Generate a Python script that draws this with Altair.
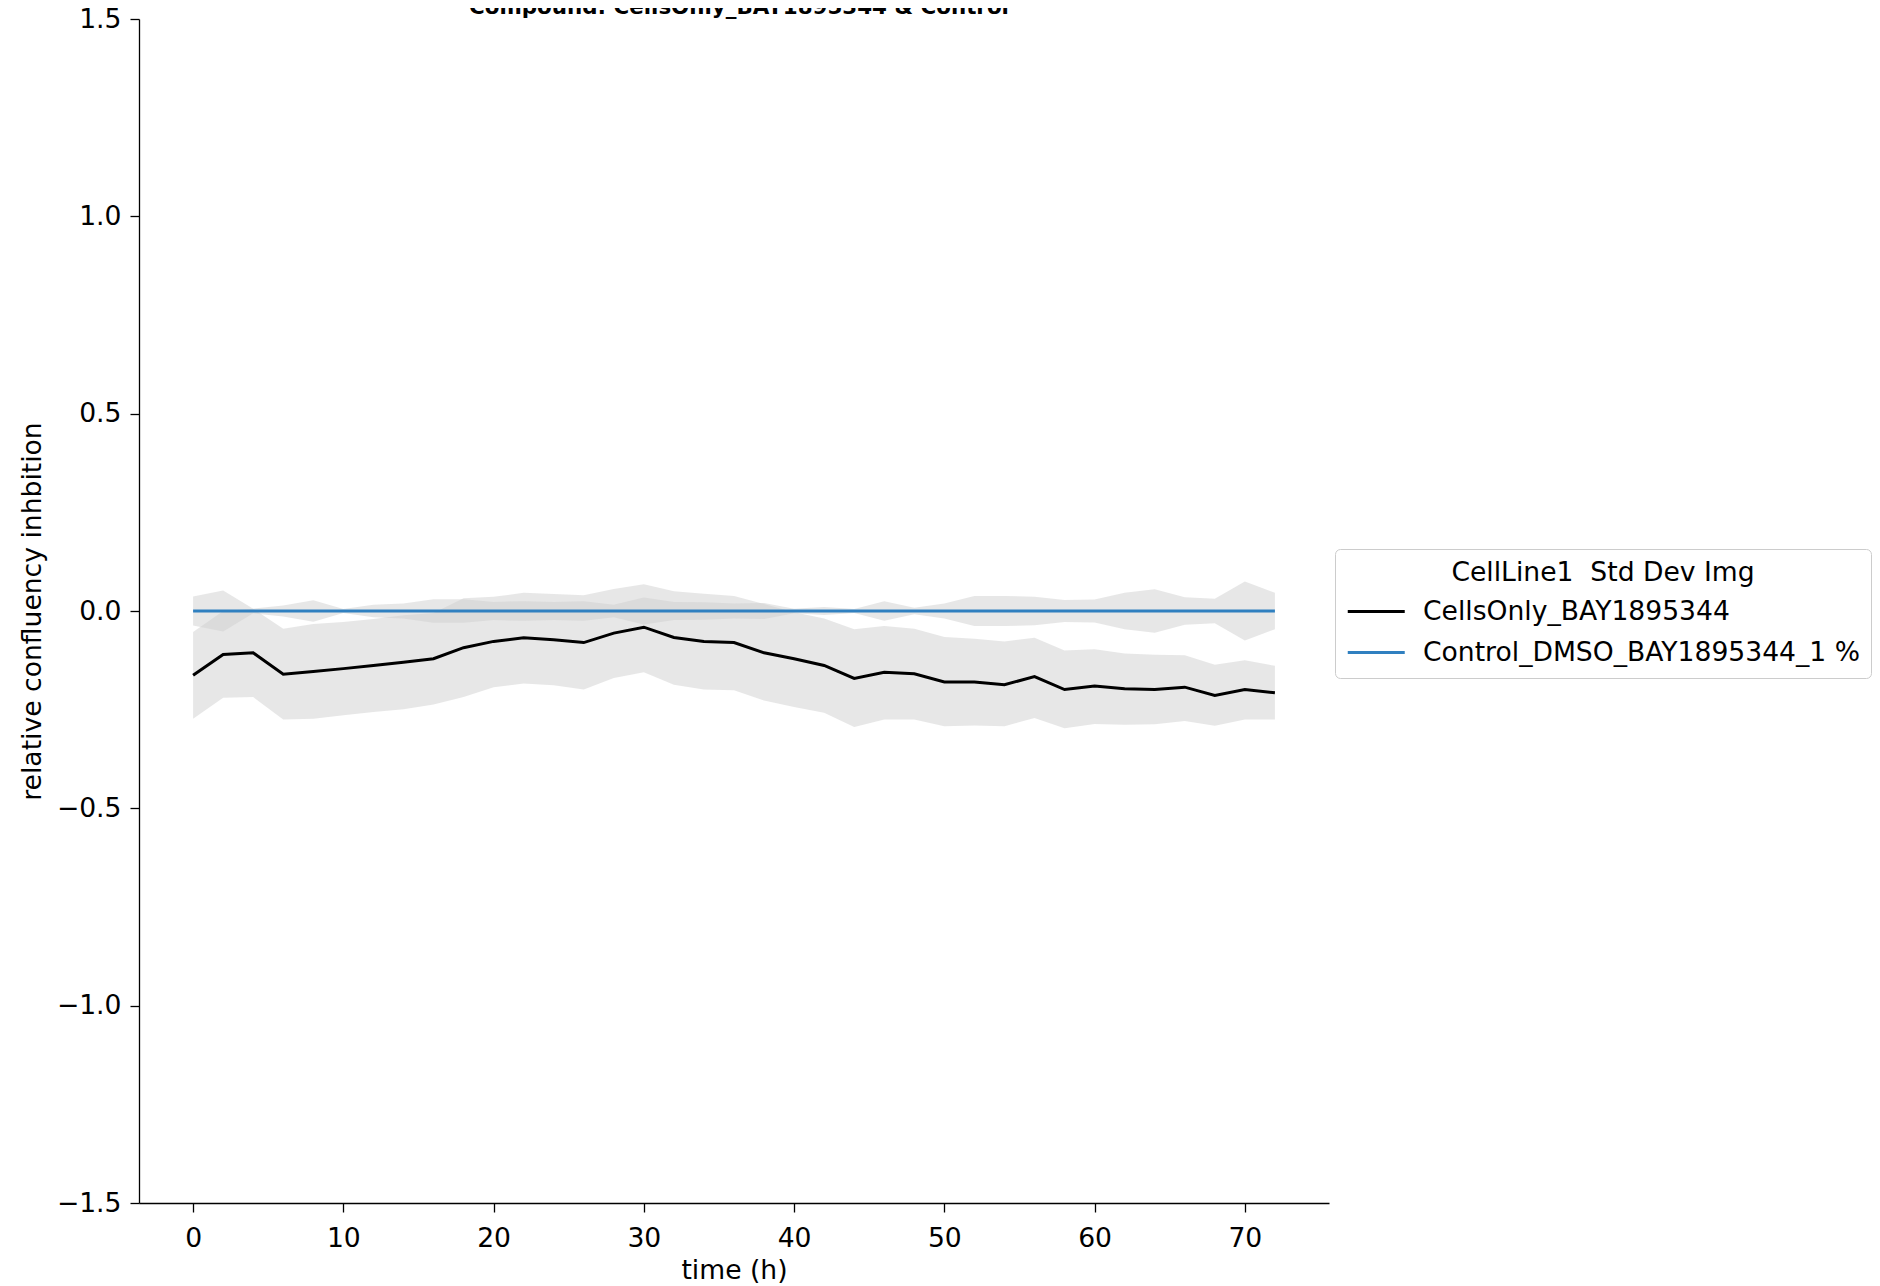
import altair as alt
import pandas as pd

title_text = "Compound: CellsOnly_BAY1895344 & Control"
series_names = ["CellsOnly_BAY1895344", "Control_DMSO_BAY1895344_1 %"]
series_colors = ["#000000", "#3080c0"]

time_h = [0, 2, 4, 6, 8, 10, 12, 14, 16, 18, 20, 22, 24, 26, 28, 30, 32, 34, 36,
          38, 40, 42, 44, 46, 48, 50, 52, 54, 56, 58, 60, 62, 64, 66, 68, 70, 72]

cells_mean = [-0.163, -0.110, -0.106, -0.160, -0.153, -0.146, -0.138, -0.130, -0.121, -0.093,
              -0.077, -0.068, -0.073, -0.080, -0.056, -0.041, -0.067, -0.077, -0.080, -0.106,
              -0.121, -0.138, -0.171, -0.155, -0.159, -0.180, -0.180, -0.187, -0.166, -0.199,
              -0.190, -0.197, -0.199, -0.193, -0.214, -0.199, -0.207]
cells_lower = [-0.273, -0.220, -0.218, -0.275, -0.273, -0.264, -0.256, -0.249, -0.237, -0.218,
               -0.193, -0.184, -0.188, -0.199, -0.170, -0.155, -0.187, -0.199, -0.201, -0.227,
               -0.243, -0.258, -0.294, -0.275, -0.275, -0.292, -0.290, -0.292, -0.271, -0.297,
               -0.286, -0.288, -0.287, -0.279, -0.291, -0.275, -0.275]
cells_upper = [-0.053, 0.000, 0.006, -0.045, -0.033, -0.028, -0.020, -0.011, -0.005, 0.032,
               0.036, 0.046, 0.043, 0.040, 0.056, 0.068, 0.050, 0.044, 0.038, 0.018,
               -0.003, -0.019, -0.046, -0.038, -0.045, -0.066, -0.070, -0.077, -0.068, -0.100,
               -0.097, -0.108, -0.111, -0.112, -0.136, -0.125, -0.139]

control_mean = [0.0, 0.0, 0.0, 0.0, 0.0, 0.0, 0.0, 0.0, 0.0, 0.0,
                0.0, 0.0, 0.0, 0.0, 0.0, 0.0, 0.0, 0.0, 0.0, 0.0,
                0.0, 0.0, 0.0, 0.0, 0.0, 0.0, 0.0, 0.0, 0.0, 0.0,
                0.0, 0.0, 0.0, 0.0, 0.0, 0.0, 0.0]
control_sd = [0.037, 0.052, 0.006, 0.014, 0.027, 0.005, 0.016, 0.019, 0.030, 0.030,
              0.023, 0.025, 0.023, 0.025, 0.016, 0.034, 0.023, 0.022, 0.019, 0.020,
              0.006, 0.010, 0.005, 0.025, 0.008, 0.019, 0.038, 0.038, 0.036, 0.028,
              0.029, 0.046, 0.055, 0.035, 0.031, 0.075, 0.046]

rows = []
for i, t in enumerate(time_h):
    rows.append({"time": t, "series": series_names[0], "mean": cells_mean[i],
                 "lower": cells_lower[i], "upper": cells_upper[i]})
for i, t in enumerate(time_h):
    rows.append({"time": t, "series": series_names[1], "mean": control_mean[i],
                 "lower": control_mean[i] - control_sd[i], "upper": control_mean[i] + control_sd[i]})
df = pd.DataFrame(rows)

FONT = "DejaVu Sans"
FS = 26.6

x_enc = alt.X("time:Q",
              scale=alt.Scale(domain=[-3.6, 75.6], nice=False, zero=False),
              axis=alt.Axis(values=[0, 10, 20, 30, 40, 50, 60, 70], format="d",
                            title="time (h)", titleX=595, titleY=67,
                            titleBaseline="middle", labelPadding=13))
y_scale = alt.Scale(domain=[-1.5, 1.5], nice=False, zero=False)
y_axis = alt.Axis(values=[-1.5, -1.0, -0.5, 0.0, 0.5, 1.0, 1.5], format=".1f",
                  title="relative confluency inhbition", titleX=-107, titleY=592,
                  titleAngle=270, titleBaseline="middle", labelPadding=9)

base = alt.Chart(df)

band = base.mark_area(color="#cfcfcf", opacity=0.5).encode(
    x=x_enc,
    y=alt.Y("lower:Q", scale=y_scale, axis=y_axis),
    y2="upper:Q",
    detail="series:N",
)

line = base.mark_line(strokeWidth=3).encode(
    x=x_enc,
    y=alt.Y("mean:Q", scale=y_scale, axis=y_axis),
    color=alt.Color("series:N",
                    scale=alt.Scale(domain=series_names, range=series_colors),
                    legend=alt.Legend(title="CellLine1\u00a0\u00a0Std Dev Img",
                                      orient="none", legendX=1196, legendY=530,
                                      symbolType="M-1,0H3", symbolSize=812,
                                      symbolStrokeWidth=3, labelOffset=45,
                                      rowPadding=11, titlePadding=9, padding=11,
                                      titleAnchor="middle", titleLimit=2000,
                                      labelLimit=2000)),
)

title = alt.Chart(pd.DataFrame({"t": [title_text]})).mark_text(
    font=FONT, fontSize=21.4, fontWeight="bold", align="center", baseline="alphabetic",
    color="black"
).encode(text="t:N", x=alt.value(600), y=alt.value(-5))

chart = alt.layer(band, line, title).properties(
    width=1190, height=1184,
    autosize=alt.AutoSizeParams(type="none"),
    padding={"left": 131, "top": 11, "right": 543, "bottom": 83},
).configure(
    font=FONT,
).configure_view(
    stroke=None,
).configure_axis(
    grid=False, domainColor="black", domainWidth=1.3, tickColor="black",
    tickWidth=1.3, tickSize=9, labelFont=FONT, labelFontSize=FS,
    labelColor="black", titleFont=FONT, titleFontSize=FS, titleFontWeight="normal",
    titleColor="black",
).configure_legend(
    labelFont=FONT, labelFontSize=FS, labelColor="black", titleFont=FONT,
    titleFontSize=FS, titleFontWeight="normal", titleColor="black",
    fillColor="white", strokeColor="#cccccc", cornerRadius=5,
)

chart.save("out.html", embed_options={"renderer": "svg", "actions": False})
